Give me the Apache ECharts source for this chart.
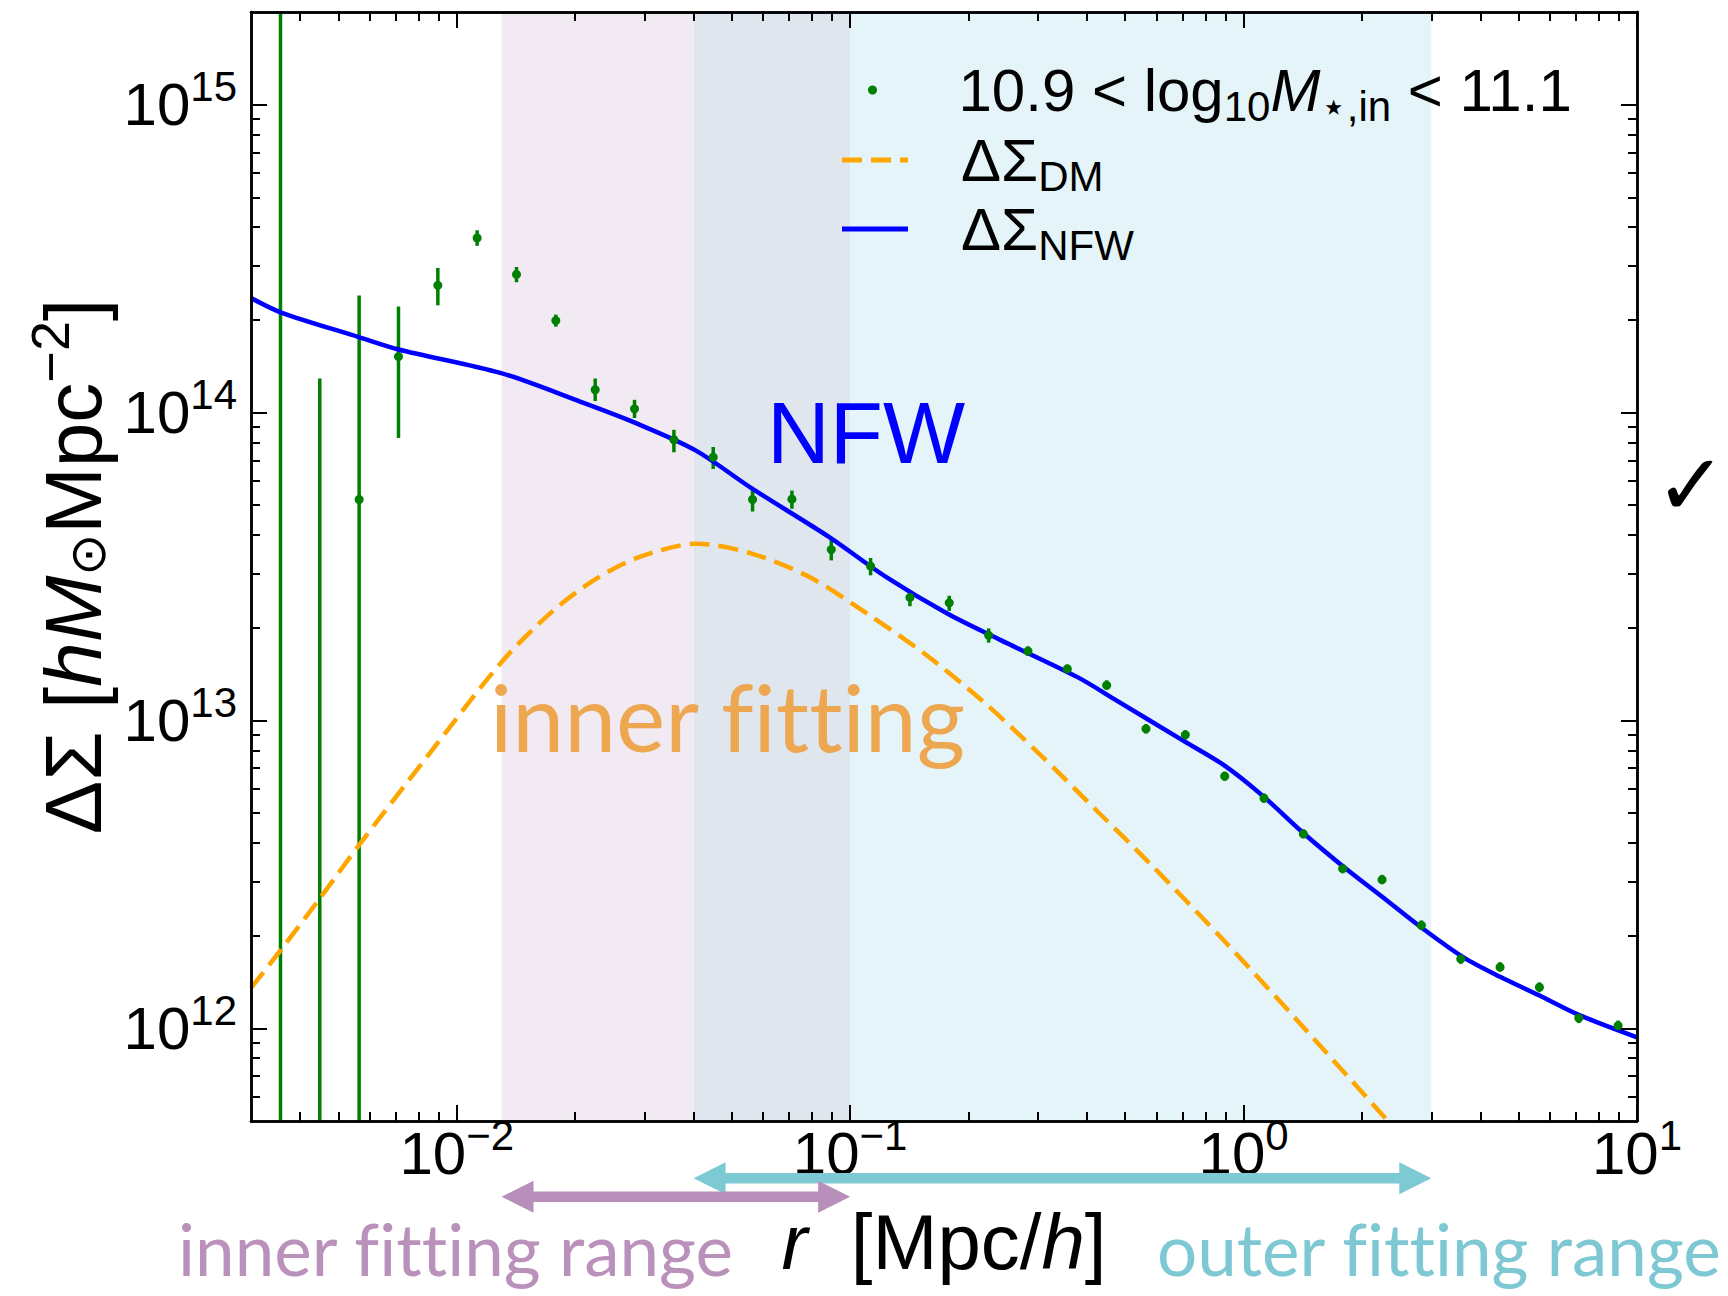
<!DOCTYPE html>
<html>
<head>
<meta charset="utf-8">
<script src="https://cdn.jsdelivr.net/npm/echarts@6/dist/echarts.min.js"></script>
<style>
html,body{margin:0;padding:0;background:#fff;}
#chart{width:1728px;height:1296px;}
#chart text{font-variant-ligatures:none;font-feature-settings:"liga" 0;}
</style>
</head>
<body>
<div id="chart"></div>
<script>
// ---------------- data ----------------
const X_RANGE = [0.003, 10];
const Y_RANGE = [5e11, 2e15];

// radial bins of the measured profile
const R_BINS = [0.003565, 0.004487, 0.005649, 0.007112, 0.008954, 0.01127, 0.01419, 0.01786, 0.02249, 0.02831,
  0.03565, 0.04487, 0.05649, 0.07112, 0.08954, 0.1127, 0.1419, 0.1786, 0.2249, 0.2831,
  0.3565, 0.4487, 0.5649, 0.7112, 0.8954, 1.127, 1.419, 1.786, 2.249, 2.831,
  3.565, 4.487, 5.649, 7.112, 8.954];
// measured ΔΣ (null = marker not visible in the plot)
const DS_DATA = [null, null, 5.22e13, 1.52e14, 2.59e14, 3.69e14, 2.81e14, 1.99e14, 1.186e14, 1.028e14,
  8.16e13, 7.16e13, 5.22e13, 5.23e13, 3.59e13, 3.17e13, 2.51e13, 2.41e13, 1.89e13, 1.68e13,
  1.47e13, 1.30e13, 9.39e12, 8.98e12, 6.59e12, 5.59e12, 4.28e12, 3.30e12, 3.04e12, 2.16e12,
  1.68e12, 1.58e12, 1.36e12, 1.08e12, 1.02e12];
// error-bar ends (null = runs off the plotted range)
const ERR_LO = [null, null, null, 8.26e13, 2.23e14, 3.48e14, 2.65e14, 1.90e14, 1.09e14, 9.6e13,
  7.43e13, 6.56e13, 4.77e13, 4.87e13, 3.31e13, 2.96e13, 2.35e13, 2.27e13, 1.79e13, 1.62e13,
  1.42e13, 1.26e13, 9.07e12, 8.68e12, 6.37e12, 5.40e12, 4.14e12, 3.19e12, 2.94e12, 2.09e12,
  1.62e12, 1.53e12, 1.31e12, 1.04e12, 0.99e12];
const ERR_HI = [null, 1.29e14, 2.40e14, 2.21e14, 2.95e14, 3.91e14, 2.97e14, 2.08e14, 1.29e14, 1.10e14,
  8.79e13, 7.73e13, 5.70e13, 5.58e13, 3.85e13, 3.37e13, 2.64e13, 2.54e13, 1.99e13, 1.74e13,
  1.52e13, 1.35e13, 9.72e12, 9.29e12, 6.82e12, 5.79e12, 4.43e12, 3.42e12, 3.15e12, 2.24e12,
  1.74e12, 1.64e12, 1.41e12, 1.12e12, 1.06e12];

// NFW model curve
const NFW_R = [0.003, 0.00358, 0.00564, 0.00711, 0.01297, 0.02065, 0.02825, 0.04036, 0.05649, 0.08851,
  0.1236, 0.1770, 0.2421, 0.3793, 0.4737, 0.6902, 0.8913, 1.117, 1.409, 1.778,
  2.254, 2.825, 3.622, 4.487, 5.636, 7.063, 10];
const NFW_DS = [2.355e14, 2.113e14, 1.758e14, 1.603e14, 1.343e14, 1.084e14, 9.29e13, 7.55e13, 5.65e13, 3.94e13,
  2.92e13, 2.22e13, 1.82e13, 1.38e13, 1.164e13, 8.71e12, 7.16e12, 5.70e12, 4.34e12, 3.38e12,
  2.67e12, 2.13e12, 1.70e12, 1.47e12, 1.28e12, 1.11e12, 9.35e11];

// dark-matter curve
const DM_R = [0.003, 0.00358, 0.0045, 0.00564, 0.00851, 0.01303, 0.01742, 0.02254, 0.02917, 0.04083,
  0.05649, 0.07907, 0.1107, 0.1549, 0.2163, 0.3029, 0.4236, 0.5794, 0.8913, 1.371, 2.301];
const DM_DS = [1.352e12, 1.803e12, 2.655e12, 3.93e12, 7.78e12, 1.552e13, 2.249e13, 2.877e13, 3.396e13, 3.750e13,
  3.475e13, 2.917e13, 2.218e13, 1.644e13, 1.161e13, 7.78e12, 5.09e12, 3.42e12, 1.928e12, 1.059e12, 5.08e11];

// fitting ranges
const INNER_RANGE = [0.013, 0.1];
const OUTER_RANGE = [0.04, 3];

// ticks
const X_MAJOR = [0.01, 0.1, 1, 10];
const X_MINOR = [0.004, 0.005, 0.006, 0.007, 0.008, 0.009,
  0.02, 0.03, 0.04, 0.05, 0.06, 0.07, 0.08, 0.09,
  0.2, 0.3, 0.4, 0.5, 0.6, 0.7, 0.8, 0.9,
  2, 3, 4, 5, 6, 7, 8, 9];
const Y_MAJOR = [1e12, 1e13, 1e14, 1e15];
const Y_MINOR = [6e11, 7e11, 8e11, 9e11,
  2e12, 3e12, 4e12, 5e12, 6e12, 7e12, 8e12, 9e12,
  2e13, 3e13, 4e13, 5e13, 6e13, 7e13, 8e13, 9e13,
  2e14, 3e14, 4e14, 5e14, 6e14, 7e14, 8e14, 9e14];

const NAME_DATA = '10.9 < log10M⋆,in < 11.1';
const NAME_DM = 'ΔΣDM';
const NAME_NFW = 'ΔΣNFW';

// ---------------- styles ----------------
const SANS = 'Liberation Sans, DejaVu Sans, sans-serif';
const HUMAN = 'Lato, Open Sans, sans-serif';
const TICK_RICH = {
  b: {fontFamily: SANS, fontSize: 60, lineHeight: 60, color: '#000'},
  s: {fontFamily: SANS, fontSize: 42, lineHeight: 42, padding: [0, 0, 36, 0], color: '#000'}
};
function tickFmt(v) {
  const e = Math.round(Math.log10(v));
  return '{b|10}{s|' + (e < 0 ? '\u2212' + (-e) : e) + '}';
}
function mkAxis(kind, pos, ticks, len, withLabel) {
  const isX = kind === 'x';
  const rng = isX ? X_RANGE : Y_RANGE;
  return {
    type: 'log', logBase: 10, min: rng[0], max: rng[1], position: pos, z: 10,
    axisLine: {show: true, onZero: false, lineStyle: {color: '#000', width: 2.5}},
    axisTick: {show: true, inside: true, length: len, customValues: ticks, lineStyle: {color: '#000', width: 2}},
    axisLabel: withLabel ? {show: true, customValues: ticks, formatter: tickFmt, margin: isX ? 2 : 14,
      rich: TICK_RICH, showMinLabel: true, showMaxLabel: true, hideOverlap: false} : {show: false},
    splitLine: {show: false}, minorTick: {show: false}, minorSplitLine: {show: false},
    axisPointer: {show: false}
  };
}

const xAxes = [mkAxis('x', 'bottom', X_MAJOR, 16, true), mkAxis('x', 'bottom', X_MINOR, 9, false),
  mkAxis('x', 'top', X_MAJOR, 16, false), mkAxis('x', 'top', X_MINOR, 9, false)];
Object.assign(xAxes[0], {
  name: '{i|r}{t|  [Mpc/}{i|h}{t|]}', nameLocation: 'middle', nameGap: 82, nameMoveOverlap: false,
  nameTextStyle: {rich: {
    t: {fontFamily: SANS, fontSize: 78, lineHeight: 78, color: '#000'},
    i: {fontFamily: SANS, fontSize: 78, lineHeight: 78, fontStyle: 'italic', color: '#000'}
  }}
});
const yAxes = [mkAxis('y', 'left', Y_MAJOR, 16, true), mkAxis('y', 'left', Y_MINOR, 9, false),
  mkAxis('y', 'right', Y_MAJOR, 16, false), mkAxis('y', 'right', Y_MINOR, 9, false)];
Object.assign(yAxes[0], {
  name: '{t|ΔΣ [}{i|hM}{o|⊙}{t|Mpc}{p|\u22122}{t|]}', nameLocation: 'middle', nameGap: 138, nameRotate: 90,
  nameMoveOverlap: false,
  nameTextStyle: {rich: {
    t: {fontFamily: SANS, fontSize: 80, lineHeight: 80, color: '#000'},
    i: {fontFamily: SANS, fontSize: 80, lineHeight: 80, fontStyle: 'italic', color: '#000'},
    o: {fontFamily: 'DejaVu Sans', fontSize: 50, lineHeight: 50, padding: [30, 0, 0, 0], color: '#000'},
    p: {fontFamily: SANS, fontSize: 54, lineHeight: 54, padding: [0, 0, 46, 0], color: '#000'}
  }}
});

const LEG_RICH = {
  g: {width: 48, lineHeight: 50},
  t: {fontFamily: SANS, fontSize: 60, lineHeight: 50, color: '#000'},
  m: {fontFamily: SANS, fontSize: 60, lineHeight: 50, fontStyle: 'italic', color: '#000'},
  s: {fontFamily: SANS, fontSize: 42, lineHeight: 30, padding: [32, 0, 0, 0], color: '#000'}
};
function legFmt(name) {
  if (name === NAME_DATA) return '{g| }{t|10.9 < log}{s|10}{m|M}{s|⋆,in}{t| < 11.1}';
  if (name === NAME_DM) return '{g| }{t|ΔΣ}{s|DM}';
  return '{g| }{t|ΔΣ}{s|NFW}';
}

const scatterData = R_BINS.map((r, i) => [r, DS_DATA[i]]).filter(d => d[1] != null);
const errData = R_BINS.map((r, i) => [r, ERR_LO[i], ERR_HI[i]]);

function renderErr(params, api) {
  const cs = params.coordSys;
  const x = api.value(0), lo = api.value(1), hi = api.value(2);
  const px = api.coord([x, Y_RANGE[0]])[0];
  let yTop = (isFinite(hi) && hi > 0) ? api.coord([x, hi])[1] : cs.y;
  let yBot = (isFinite(lo) && lo > 0) ? api.coord([x, lo])[1] : cs.y + cs.height;
  yTop = Math.max(cs.y, yTop);
  yBot = Math.min(cs.y + cs.height, yBot);
  return {type: 'line', shape: {x1: px, y1: yTop, x2: px, y2: yBot},
    style: {stroke: '#008000', lineWidth: 3.5}};
}

const option = {
  animation: false,
  backgroundColor: '#fff',
  grid: {left: 251, right: 91, top: 12, bottom: 175, containLabel: false, outerBoundsMode: 'none'},
  xAxis: xAxes,
  yAxis: yAxes,
  legend: [
    {data: [NAME_DATA], orient: 'vertical', left: 868, top: 53, padding: 0, itemWidth: 66, itemHeight: 9,
      itemGap: 10, selectedMode: false, formatter: legFmt, textStyle: {color: '#000', rich: LEG_RICH}},
    {data: [NAME_DM, NAME_NFW], orient: 'vertical', left: 839.5, top: 123, padding: 0, itemWidth: 66, itemHeight: 10,
      itemGap: -5, selectedMode: false, formatter: legFmt, textStyle: {color: '#000', rich: LEG_RICH},
      itemStyle: {opacity: 0}, lineStyle: {width: 5}}
  ],
  series: [
    {name: 'bands', type: 'line', data: [], z: 1, silent: true,
      markArea: {silent: true, data: [
        [{xAxis: INNER_RANGE[0], itemStyle: {color: '#F2EAF2'}}, {xAxis: OUTER_RANGE[0]}],
        [{xAxis: OUTER_RANGE[0], itemStyle: {color: '#DFE6ED'}}, {xAxis: INNER_RANGE[1]}],
        [{xAxis: INNER_RANGE[1], itemStyle: {color: '#E4F4F8'}}, {xAxis: OUTER_RANGE[1]}]
      ]}},
    {name: 'error bars', type: 'custom', renderItem: renderErr, data: errData, z: 2, silent: true,
      encode: {x: 0, y: [1, 2]}},
    {name: NAME_DM, type: 'line', data: DM_R.map((r, i) => [r, DM_DS[i]]), z: 3, symbol: 'none', showSymbol: false,
      smooth: 0.3, color: '#FFA500', lineStyle: {color: '#FFA500', width: 4.5, type: [20, 9]}, silent: true},
    {name: NAME_NFW, type: 'line', data: NFW_R.map((r, i) => [r, NFW_DS[i]]), z: 3, symbol: 'none', showSymbol: false,
      smooth: 0.3, color: '#0000FF', lineStyle: {color: '#0000FF', width: 4.5}, silent: true},
    {name: NAME_DATA, type: 'scatter', data: scatterData, z: 4, symbol: 'circle', symbolSize: 9,
      itemStyle: {color: '#008000', opacity: 1}, silent: true}
  ]
};

const chart = echarts.init(document.getElementById('chart'), null, {renderer: 'svg', width: 1728, height: 1296});
chart.setOption(option);

// ---------------- annotations ----------------
function xpx(v) { return chart.convertToPixel({xAxisIndex: 0}, v); }
function arrowPoints(x1, x2, y) {
  const H = 32, hw = 16, sw = 5.3;
  return [[x1, y], [x1 + H, y - hw], [x1 + H, y - sw], [x2 - H, y - sw], [x2 - H, y - hw], [x2, y],
    [x2 - H, y + hw], [x2 - H, y + sw], [x1 + H, y + sw], [x1 + H, y + hw]];
}
chart.setOption({
  graphic: [
    {type: 'polygon', id: 'outerArrow', z: 50, shape: {points: arrowPoints(xpx(OUTER_RANGE[0]), xpx(OUTER_RANGE[1]), 1178.3)},
      style: {fill: '#7DC9D4'}},
    {type: 'polygon', id: 'innerArrow', z: 51, shape: {points: arrowPoints(xpx(INNER_RANGE[0]), xpx(INNER_RANGE[1]), 1196.7)},
      style: {fill: '#B88FBA'}},
    {type: 'text', id: 'innerRangeTxt', z: 52, x: 178, y: 1248,
      style: {text: 'inner fitting range', fontFamily: HUMAN, fontSize: 71, fill: '#B991BB', align: 'left', verticalAlign: 'middle'}},
    {type: 'text', id: 'outerRangeTxt', z: 52, x: 1157, y: 1248,
      style: {text: 'outer fitting range', fontFamily: HUMAN, fontSize: 71, fill: '#7EC8D3', align: 'left', verticalAlign: 'middle'}},
    {type: 'text', id: 'innerTxt', z: 52, x: 490, y: 716,
      style: {text: 'inner fitting', fontFamily: HUMAN, fontSize: 93, fill: '#EDA750', align: 'left', verticalAlign: 'middle'}},
    {type: 'text', id: 'nfwTxt', z: 52, x: 767, y: 432.9,
      style: {text: 'NFW', fontFamily: SANS, fontSize: 87, fill: '#0000FF', align: 'left', verticalAlign: 'middle'}},
    {type: 'text', id: 'check', z: 52, x: 1655, y: 485,
      style: {text: '✓', fontFamily: 'DejaVu Sans', fontWeight: 'bold', fontSize: 86, fill: '#000', align: 'left', verticalAlign: 'middle'}}
  ]
});
</script>
</body>
</html>
